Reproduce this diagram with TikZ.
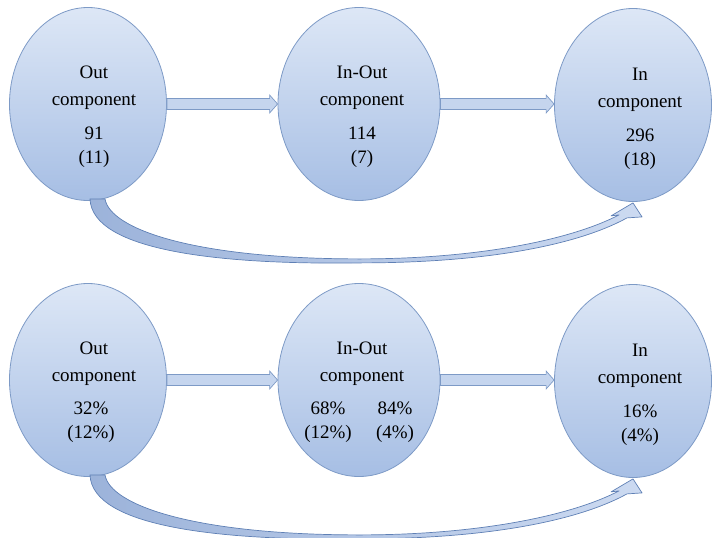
\documentclass[tikz,border=0pt]{standalone}
\usepackage{fontspec}
\setmainfont{Liberation Serif}
\usetikzlibrary{shapes.geometric,calc}
\definecolor{ellTop}{HTML}{DDE7F6}
\definecolor{ellBot}{HTML}{A6BEE4}
\definecolor{ellLine}{HTML}{7D9AC6}
\definecolor{arrFill}{HTML}{C5D5EE}
\definecolor{curveDark}{HTML}{9CB3DA}
\definecolor{curveLight}{HTML}{CCDAF1}
\definecolor{curveLine}{HTML}{5F80B5}
\begin{document}
\begin{tikzpicture}[x=1pt,y=-1pt,
  comp/.style={ellipse, draw=ellLine, line width=0.8pt, top color=ellTop, bottom color=ellBot,
    minimum width=157pt, minimum height=193pt, inner sep=0pt},
  lbl/.style={align=center, anchor=north, inner sep=0pt, font=\fontsize{19}{23.5}\selectfont},
  blockarrow/.style={draw=ellLine, fill=arrFill, line width=0.7pt, line join=miter},
  curvearrow/.style={draw=curveLine, left color=curveDark, right color=curveLight, line width=0.7pt, line join=round}]
\useasboundingbox (0,0) rectangle (712,538);

% ---------- top row ----------
\node[comp] (o1) at (88,104) {};
\node[comp, minimum width=162pt] (io1) at (359,104) {};
\node[comp] (i1) at (633,105) {};

\node[lbl] (o1t) at ($(o1.center)+(6,-38)$) {Out\\[3pt]component};
\node[lbl] (o1n) at ($(o1.center)+(6,23)$) {91\\(11)};
\node[lbl] (io1t) at ($(io1.center)+(3,-38)$) {In-Out\\[3pt]component};
\node[lbl] (io1n) at ($(io1.center)+(3,23)$) {114\\(7)};
\node[lbl] (i1t) at ($(i1.center)+(7,-37)$) {In\\[3pt]component};
\node[lbl] (i1n) at ($(i1.center)+(7,24)$) {296\\(18)};

% ---------- bottom row ----------
\node[comp] (o2) at (88,380) {};
\node[comp, minimum width=162pt] (io2) at (359,380) {};
\node[comp] (i2) at (633,381) {};

\node[lbl] (o2t) at ($(o2.center)+(6,-38)$) {Out\\[3pt]component};
\node[lbl] (o2n) at ($(o2.center)+(3,22)$) {32\%\\(12\%)};
\node[lbl] (io2t) at ($(io2.center)+(3,-38)$) {In-Out\\[3pt]component};
\node[lbl] (io2a) at ($(io2.center)+(-31,22)$) {68\%\\(12\%)};
\node[lbl] (io2b) at ($(io2.center)+(36,22)$) {84\%\\(4\%)};
\node[lbl] (i2t) at ($(i2.center)+(7,-37)$) {In\\[3pt]component};
\node[lbl] (i2n) at ($(i2.center)+(7,24)$) {16\%\\(4\%)};

% ---------- straight block arrows ----------
\foreach \a/\b in {o1/io1, io1/i1, o2/io2, io2/i2}{
  \draw[blockarrow] let \p1=(\a.east), \p2=(\b.west) in
    (\x1,\y1+5.5pt) -- (\x2-8pt,\y1+5.5pt) -- (\x2-8pt,\y1+9pt) -- (\x2,\y1)
    -- (\x2-8pt,\y1-9pt) -- (\x2-8pt,\y1-5.5pt) -- (\x1,\y1-5.5pt) -- cycle;
}

% ---------- curved arrows ----------
\foreach \s/\e in {o1/i1, o2/i2}{
  \coordinate (cs) at (\s.south);
  \coordinate (ce) at (\e.south);
  \draw[curvearrow]
    ($(cs)+(2,-2)$) .. controls ($(cs)+(4,50)$) and ($(cs)+(132,64)$) .. ($(cs)+(272,62)$)
    .. controls ($(ce)+(-150,61)$) and ($(ce)+(-57,44)$) .. ($(ce)+(-6,16)$)
    -- ($(ce)+(9,15)$) -- ($(ce)+(0,1)$) -- ($(ce)+(-22,14)$) -- ($(ce)+(-14,13)$)
    .. controls ($(ce)+(-62,38)$) and ($(ce)+(-155,57)$) .. ($(cs)+(272,58)$)
    .. controls ($(cs)+(105,58)$) and ($(cs)+(22,28)$) .. ($(cs)+(17,-2)$) -- cycle;
}
\end{tikzpicture}
\end{document}
